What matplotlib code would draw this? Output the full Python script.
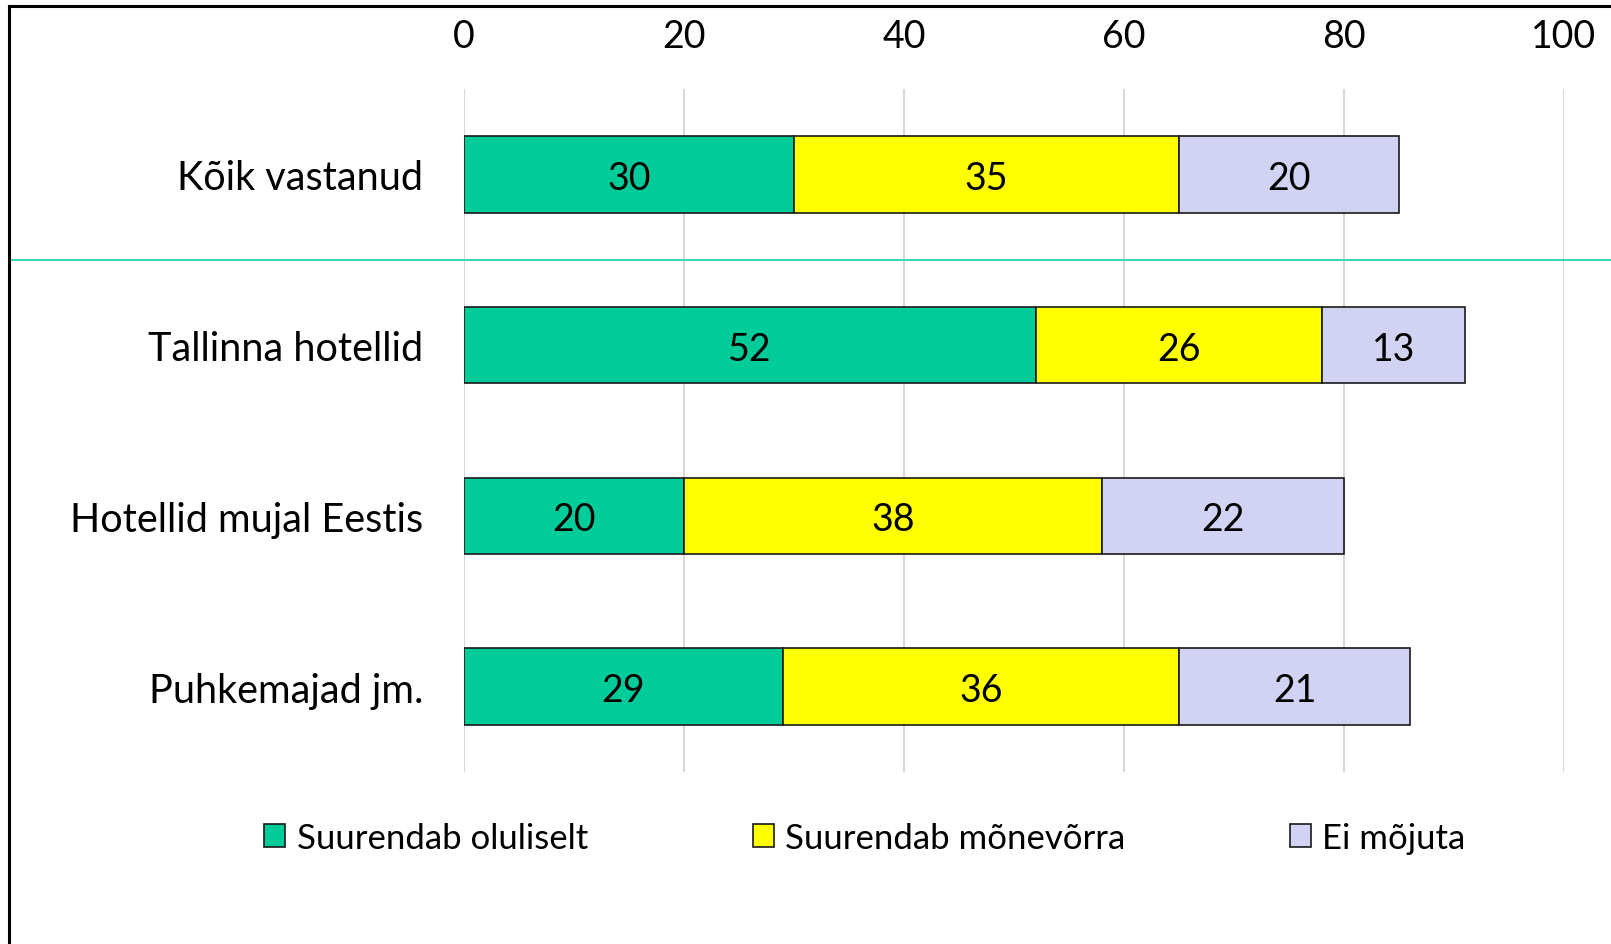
import matplotlib
matplotlib.use("Agg")
import matplotlib.pyplot as plt
from matplotlib.lines import Line2D
from matplotlib.patches import Patch
from matplotlib.transforms import blended_transform_factory

categories = ["Kõik vastanud", "Tallinna hotellid", "Hotellid mujal Eestis", "Puhkemajad jm."]
series_names = ["Suurendab oluliselt", "Suurendab mõnevõrra", "Ei mõjuta"]
oluliselt = [30, 52, 20, 29]
monevorra = [35, 26, 38, 36]
ei_mojuta = [20, 13, 22, 21]
xticks = [0, 20, 40, 60, 80, 100]

colors = ["#00CC99", "#FFFF00", "#D2D2F2"]
plt.rcParams['font.family'] = ['Lato', 'DejaVu Sans']

W, H = 1611, 945
fig = plt.figure(figsize=(W / 100, H / 100), dpi=100)
ax = fig.add_axes([464 / W, 1 - 773 / H, 1100 / W, 683 / H])

series = [oluliselt, monevorra, ei_mojuta]
left = [0] * len(categories)
ypos = list(range(len(categories)))
for vals, col, name in zip(series, colors, series_names):
    ax.barh(ypos, vals, left=left, height=0.448, color=col,
            edgecolor="#1a1a1a", linewidth=1.2, label=name, zorder=3)
    for y, v, l in zip(ypos, vals, left):
        ax.text(l + v / 2, y + 0.02, str(v), ha="center", va="center",
                fontsize=27, color="black", zorder=4)
    left = [a + b for a, b in zip(left, vals)]

ax.set_xlim(0, 100)
ax.set_ylim(3.5, -0.5)
ax.set_xticks(xticks)
ax.set_xticklabels([str(t) for t in xticks])
ax.xaxis.tick_top()
ax.tick_params(axis="x", length=0, labelsize=27, pad=25)
ax.set_yticks(ypos)
ax.set_yticklabels(categories)
ax.tick_params(axis="y", length=0, labelsize=28.5, pad=29.5)
ax.grid(axis="x", color="#D9D9D9", linewidth=1.5, zorder=0)
for s in ax.spines.values():
    s.set_visible(False)

# separator line between first category and the rest
tr = blended_transform_factory(fig.transFigure, ax.transData)
fig.add_artist(Line2D([9 / W, 1.0], [0.5, 0.5], transform=tr,
                      color="#3CD9B4", linewidth=1.5))

# outer frame (left and top)
fig.add_artist(Line2D([9 / W, 9 / W], [0, 1 - 6.5 / H], transform=fig.transFigure,
                      color="black", linewidth=2.2))
fig.add_artist(Line2D([9 / W, 1.0], [1 - 6.5 / H, 1 - 6.5 / H], transform=fig.transFigure,
                      color="black", linewidth=2.2))

handles = [Patch(facecolor=c, edgecolor="#1a1a1a", linewidth=1.2) for c in colors]
fig.legend(handles, series_names, loc="center", bbox_to_anchor=(865 / W, 1 - 839 / H),
           ncol=3, frameon=False, fontsize=25, handlelength=0.6, handleheight=0.64,
           handletextpad=0.33, columnspacing=4.75, borderpad=0, borderaxespad=0)

fig.savefig("out.png", dpi=100)
